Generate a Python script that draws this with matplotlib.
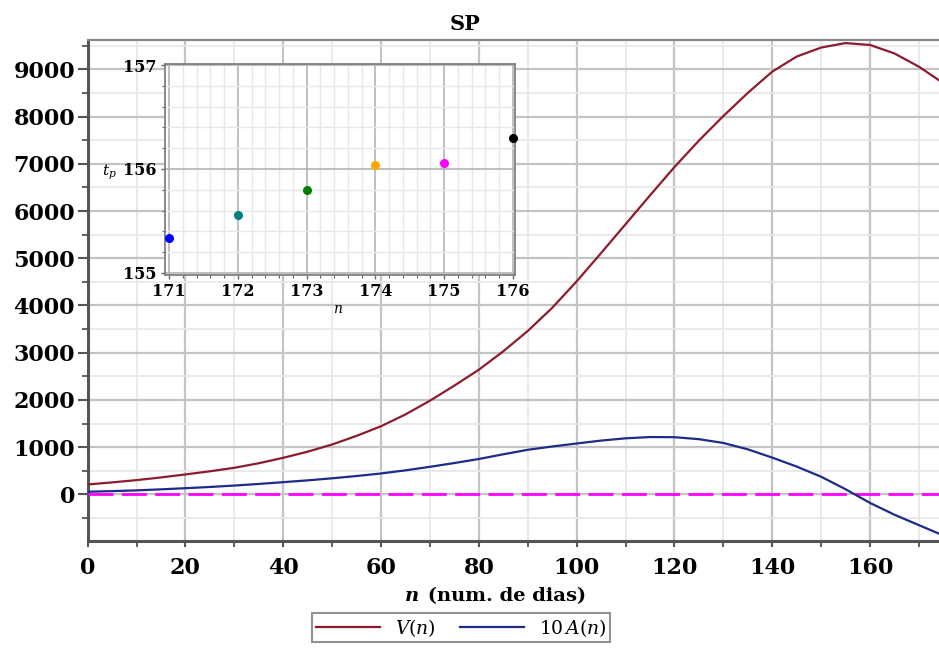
import matplotlib
matplotlib.use("Agg")
import matplotlib.pyplot as plt
from matplotlib.ticker import MultipleLocator

plt.rcParams['mathtext.fontset'] = 'dejavuserif'
plt.rcParams['font.family'] = ['DejaVu Serif']

# ---- data ----
n_days = [0, 5, 10, 15, 20, 25, 30, 35, 40, 45, 50, 55, 60, 65, 70, 75, 80, 85,
          90, 95, 100, 105, 110, 115, 120, 125, 130, 135, 140, 145, 150, 155,
          160, 165, 170, 175]
V_vals = [211, 255, 303, 360, 423, 490, 564, 660, 776, 905, 1057, 1240, 1444,
          1694, 1984, 2304, 2640, 3030, 3460, 3950, 4510, 5110, 5720, 6330,
          6930, 7490, 8010, 8500, 8950, 9270, 9460, 9555, 9515, 9335, 9055, 8705]
A10_vals = [57, 70, 86, 108, 132, 158, 188, 222, 260, 298, 342, 390, 444, 510,
            585, 665, 750, 850, 945, 1015, 1078, 1140, 1188, 1215, 1212, 1170,
            1090, 955, 780, 590, 375, 110, -180, -430, -650, -870]

inset_n = [171, 172, 173, 174, 175, 176]
inset_tp = [155.34, 155.56, 155.80, 156.04, 156.06, 156.30]
inset_colors = ['#0000ff', '#008080', '#008000', '#ffa500', '#ff00ff', '#000000']

x_ticks = [0, 20, 40, 60, 80, 100, 120, 140, 160]
y_ticks = [0, 1000, 2000, 3000, 4000, 5000, 6000, 7000, 8000, 9000]

RED = '#8c1c2c'
BLUE = '#1f2a8a'

W, H = 939, 648
fig = plt.figure(figsize=(W / 100, H / 100), dpi=100)

def fx(px):
    return px / W

def fy(py):
    return 1 - py / H

# ---- main axes ----
ax = fig.add_axes([fx(87.6), fy(540.5), 1 - fx(87.6), fy(40) - fy(540.5)])
ax.plot(n_days, V_vals, color=RED, lw=1.6, label=r'$V(n)$', zorder=4)
ax.plot(n_days, A10_vals, color=BLUE, lw=1.6, label=r'$10\,A(n)$', zorder=4)
ax.axhline(0, color='#ff00ff', lw=2.0, dashes=(9, 3), zorder=3)

ax.set_xlim(0, 174.1)
ax.set_ylim(-975, 9620)
ax.set_xticks(x_ticks)
ax.set_yticks(y_ticks)
ax.xaxis.set_minor_locator(MultipleLocator(10))
ax.yaxis.set_minor_locator(MultipleLocator(500))
ax.grid(which='major', color='#c4c4c4', lw=1.6, zorder=0)
ax.grid(which='minor', color='#e8e8e8', lw=1.3, zorder=0)
ax.set_axisbelow(True)

for lab in ax.get_xticklabels() + ax.get_yticklabels():
    lab.set_fontweight('bold')
    lab.set_fontsize(16)
ax.tick_params(axis='y', which='major', length=7, width=1.5, color='#555555', pad=2)
ax.tick_params(axis='y', which='minor', length=4.5, width=1.3, color='#555555')
ax.tick_params(axis='x', which='major', length=4, width=1.5, color='#555555', pad=8)
ax.tick_params(axis='x', which='minor', length=4, width=1.3, color='#555555')

ax.spines['left'].set_color('#555555')
ax.spines['left'].set_linewidth(2.2)
ax.spines['bottom'].set_color('#555555')
ax.spines['bottom'].set_linewidth(2.2)
ax.spines['top'].set_color('#888888')
ax.spines['top'].set_linewidth(1.6)
ax.spines['right'].set_visible(False)

# title and x-label
fig.text(fx(465), fy(24), 'SP', ha='center', va='center', fontsize=15,
         fontweight='bold')
fig.text(fx(419), fy(596), 'n', ha='right', va='center', fontsize=14,
         fontweight='bold', fontstyle='italic')
fig.text(fx(421), fy(596), ' (num. de dias)', ha='left', va='center',
         fontsize=14, fontweight='bold')

# legend
leg = fig.legend(loc='upper center', bbox_to_anchor=(fx(461), fy(613)),
                 ncol=2, fontsize=13.5, frameon=True, fancybox=False,
                 edgecolor='#777777', handlelength=3.4, borderpad=0.2,
                 columnspacing=1.3, handletextpad=0.8, borderaxespad=0)
leg.get_frame().set_linewidth(1.5)

# ---- inset ----
axi = fig.add_axes([fx(165), fy(275), fx(515) - fx(165), fy(64) - fy(275)])
for xv, yv, c in zip(inset_n, inset_tp, inset_colors):
    axi.plot([xv], [yv], 'o', color=c, ms=5.5, zorder=5, clip_on=False)
axi.set_xlim(170.94, 176.03)
axi.set_ylim(154.98, 157.01)
axi.set_xticks(inset_n)
axi.set_yticks([155, 156, 157])
axi.xaxis.set_minor_locator(MultipleLocator(0.2))
axi.yaxis.set_minor_locator(MultipleLocator(0.2))
axi.grid(which='major', color='#b4b4b4', lw=1.2, zorder=0)
axi.grid(which='minor', color='#e8e8e8', lw=1.0, zorder=0)
axi.set_axisbelow(True)
for lab in axi.get_xticklabels() + axi.get_yticklabels():
    lab.set_fontweight('bold')
    lab.set_fontsize(11.5)
axi.tick_params(which='major', length=3, width=1, color='#666666', pad=3)
axi.tick_params(which='minor', length=2.5, width=0.8, color='#666666')
for s in axi.spines.values():
    s.set_color('#777777')
    s.set_linewidth(1.2)
fig.text(fx(338), fy(309), r'$n$', ha='center', va='center', fontsize=10)
fig.text(fx(109), fy(172), r'$t_p$', ha='center', va='center', fontsize=11)

fig.savefig('out.png', dpi=100)
